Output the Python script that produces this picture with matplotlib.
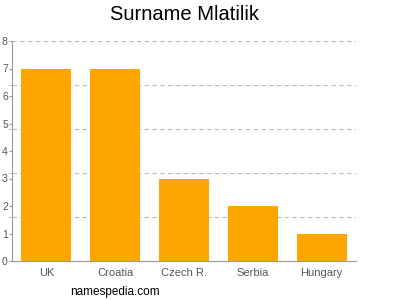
import matplotlib.pyplot as plt
import numpy as np

plt.rcParams['font.family'] = ['Liberation Sans', 'DejaVu Sans']

countries = ["UK", "Croatia", "Czech R.", "Serbia", "Hungary"]
counts = [7, 7, 3, 2, 1]
yticks = [0, 1, 2, 3, 4, 5, 6, 7, 8]
grid_levels = [1.6, 3.2, 4.8, 6.4, 8.0]

fig = plt.figure(figsize=(4, 3), dpi=100)
ax = fig.add_axes([12/400, 1 - 261/300, 344/400, 220/300])

x = np.arange(len(countries))
ax.bar(x, counts, width=0.725, color="#FFA500", zorder=2)

for g in grid_levels:
    ax.axhline(g, color="#bbbbbb", lw=0.8, ls=(0, (4, 3)), zorder=1)

ax.set_xlim(-0.5, len(countries) - 0.5)
ax.set_ylim(0, 8)
ax.set_yticks(yticks)
ax.set_yticks(grid_levels, minor=True)
ax.set_xticks(x)
ax.set_xticklabels(countries)

for s in ["top", "right"]:
    ax.spines[s].set_visible(False)
ax.spines["left"].set_color("#999999")
ax.spines["bottom"].set_color("#999999")
ax.tick_params(axis="y", which="major", length=2, color="#999999", labelcolor="#555555",
               labelsize=7.5, pad=1)
ax.tick_params(axis="y", which="minor", length=3, color="#bbbbbb")
ax.tick_params(axis="x", length=0, labelcolor="#555555", labelsize=8, pad=5)

fig.text(184/400, 1 - 14/300, "Surname Mlatilik", ha="center", va="center", fontsize=14.5)
fig.text(70/400, 1 - 292/300, "namespedia.com", ha="left", va="center", fontsize=8.5)

fig.savefig("out.png", dpi=100)
